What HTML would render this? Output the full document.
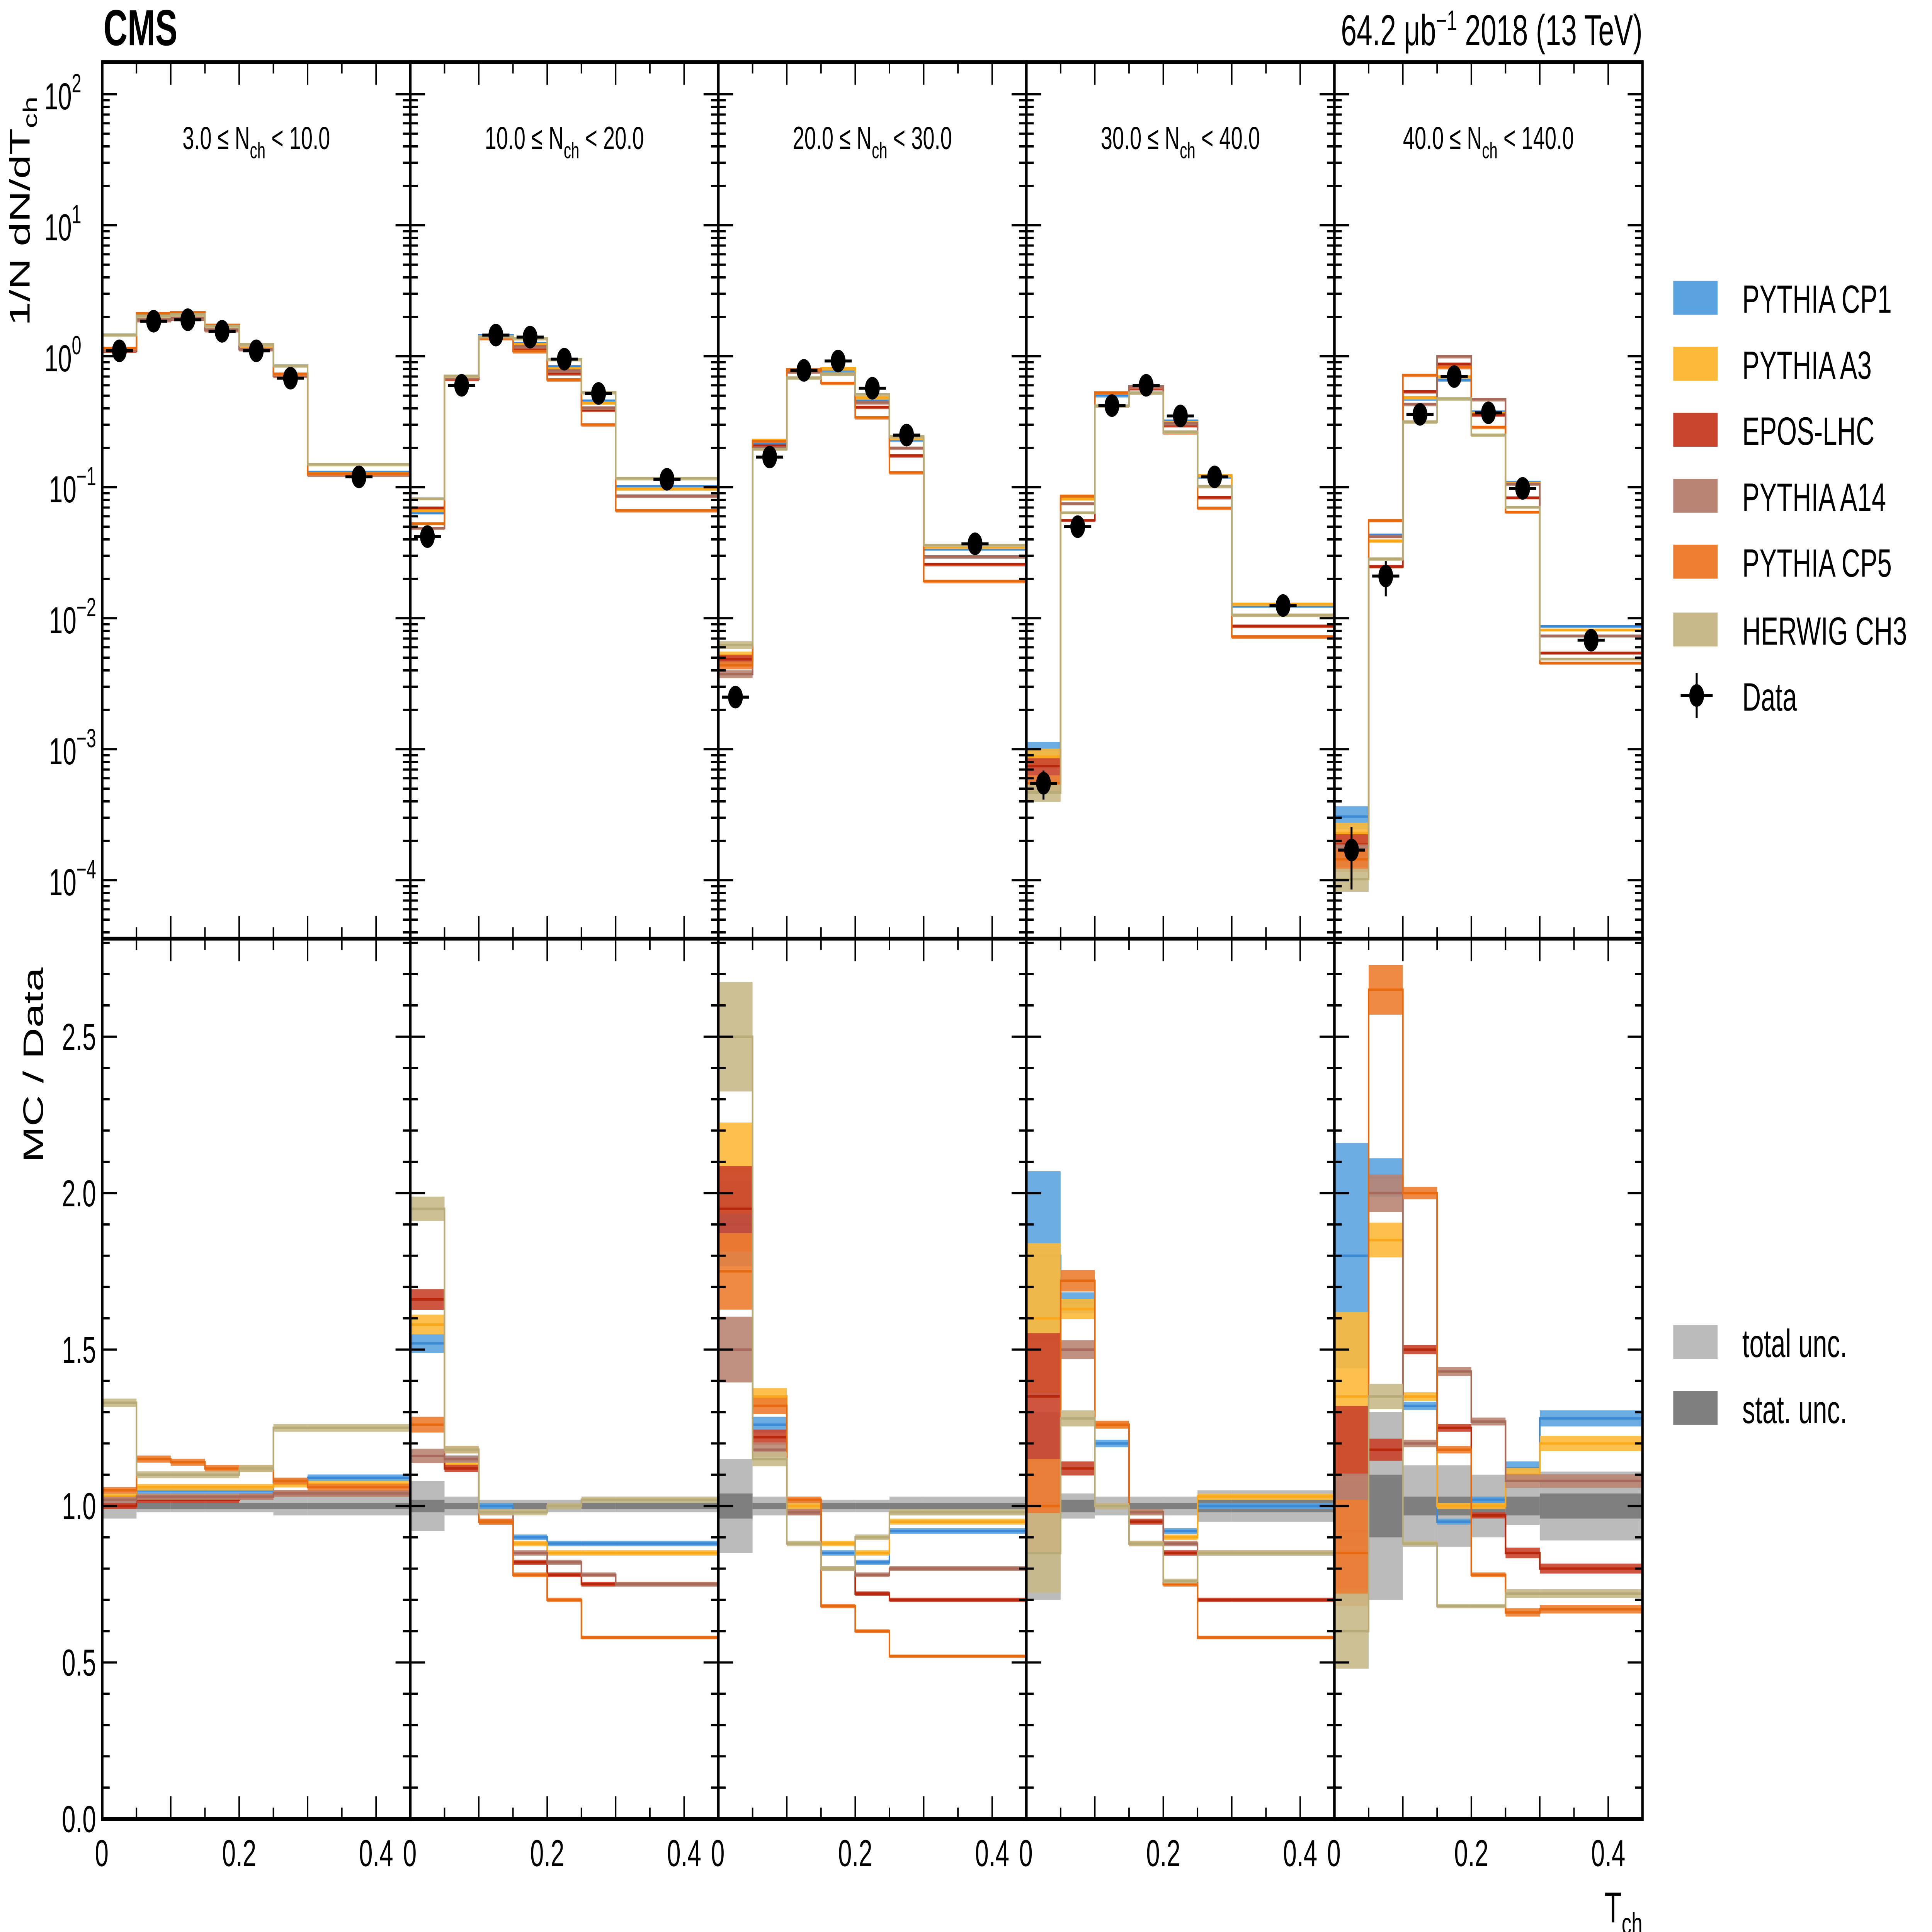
<!DOCTYPE html>
<html><head><meta charset="utf-8"><style>
html,body{margin:0;padding:0;background:#fff;width:100%;height:100%;overflow:hidden}
svg{display:block;width:100vw;height:100vh;position:absolute;left:0;top:0}
text{font-family:"Liberation Sans",sans-serif;fill:#000}
</style></head><body>
<svg id="c" xmlns="http://www.w3.org/2000/svg" viewBox="0 0 1568 1025" preserveAspectRatio="none">
<text x="84" y="24" font-size="27" font-weight="bold">CMS</text>
<text x="1333" y="24" font-size="23" text-anchor="end">64.2 μb<tspan dy="-8" font-size="15">−1</tspan><tspan dy="8"> 2018 (13 TeV)</tspan></text>
<text transform="translate(24,112) rotate(-90)" font-size="23" text-anchor="middle">1/N dN/dT<tspan dy="6" font-size="16">ch</tspan></text>
<text transform="translate(35,565) rotate(-90)" font-size="23" text-anchor="middle">MC / Data</text>
<text x="1333" y="1020" font-size="23" text-anchor="end">T<tspan dy="6" font-size="16">ch</tspan></text>
<g id="plot"></g>
<g id="legend"></g>
</svg>
<script>
const edges=[0,0.05,0.1,0.15,0.2,0.25,0.3,0.45];
const panelLabels=[["3.0","10.0"],["10.0","20.0"],["20.0","30.0"],["30.0","40.0"],["40.0","140.0"]];
const models=["PYTHIA CP1","PYTHIA A3","EPOS-LHC","PYTHIA A14","PYTHIA CP5","HERWIG CH3"];
const colors=["#5ba3e0","#fdb93a","#c9442c","#b98473","#ed7d31","#c8b98a"];
const lineColors=["#3c8ad6","#fba81b","#b8280c","#a86a5a","#e86a10","#b8ab78"];
const data=[
 [1.1,1.85,1.9,1.55,1.1,0.68,0.12],
 [0.042,0.6,1.45,1.4,0.95,0.52,0.115],
 [0.0025,0.17,0.78,0.92,0.57,0.25,0.037],
 [0.00055,0.05,0.42,0.6,0.35,0.12,0.0125],
 [0.00017,0.021,0.36,0.7,0.37,0.098,0.0068]];
const dataErr=[
 [0.02,0.02,0.02,0.02,0.02,0.02,0.02],
 [0.03,0.02,0.02,0.02,0.02,0.02,0.02],
 [0.1,0.02,0.02,0.02,0.02,0.02,0.02],
 [0.25,0.03,0.02,0.02,0.02,0.02,0.02],
 [0.5,0.3,0.05,0.03,0.03,0.03,0.05]];
const ratioCP1=[[1.02,1.05,1.05,1.05,1.05,1.08,1.09],[1.52,1.15,1.0,0.9,0.88,0.88,0.88],[1.9,1.26,1.0,0.85,0.82,0.92,0.92],[1.8,1.65,1.2,0.98,0.92,1.0,1.0],[1.8,2.05,1.32,0.95,1.02,1.12,1.28]];
const ratioA3=[[1.03,1.06,1.06,1.06,1.06,1.07,1.07],[1.58,1.13,0.98,0.88,0.85,0.85,0.85],[2.08,1.35,1.0,0.88,0.85,0.95,0.95],[1.6,1.63,1.26,0.98,0.9,1.03,1.03],[1.35,1.85,1.35,1.0,1.0,1.1,1.2]];
const ratioEPOS=[[1.0,1.02,1.02,1.02,1.03,1.04,1.04],[1.66,1.12,0.95,0.82,0.78,0.75,0.75],[1.95,1.22,0.98,0.8,0.72,0.7,0.7],[1.35,1.12,1.0,0.95,0.85,0.7,0.7],[1.1,1.18,1.5,1.25,0.97,0.85,0.8]];
const ratioA14=[[1.02,1.03,1.03,1.03,1.03,1.04,1.04],[1.16,1.15,0.98,0.85,0.82,0.78,0.75],[1.5,1.18,0.98,0.8,0.78,0.8,0.8],[1.0,1.5,1.0,0.98,0.88,0.85,0.85],[0.92,2.0,1.2,1.43,1.27,1.08,1.08]];
const ratioCP5=[[1.05,1.15,1.14,1.12,1.12,1.08,1.06],[1.26,1.18,0.95,0.78,0.7,0.58,0.58],[1.75,1.32,1.02,0.68,0.6,0.52,0.52],[1.0,1.72,1.26,0.88,0.75,0.58,0.58],[0.85,2.65,2.0,1.18,0.78,0.66,0.67]];
const ratioCH3=[[1.33,1.1,1.1,1.1,1.12,1.25,1.25],[1.95,1.18,0.98,0.98,1.0,1.02,1.02],[2.5,1.15,0.88,0.8,0.9,0.98,0.98],[0.85,1.28,1.0,0.88,0.76,0.85,0.85],[0.6,1.35,0.88,0.68,0.68,0.72,0.72]];
const ratios=[ratioCP1,ratioA3,ratioEPOS,ratioA14,ratioCP5,ratioCH3];
const mcUnc=[
 [0.01,0.01,0.01,0.01,0.01,0.01,0.01],
 [0.02,0.01,0.01,0.01,0.01,0.01,0.01],
 [0.07,0.02,0.01,0.01,0.01,0.01,0.01],
 [0.15,0.02,0.01,0.01,0.01,0.01,0.01],
 [0.2,0.03,0.01,0.01,0.01,0.02,0.02]];
const totUnc=[
 [0.04,0.02,0.02,0.02,0.02,0.03,0.03],
 [0.08,0.03,0.02,0.02,0.02,0.02,0.02],
 [0.15,0.03,0.02,0.02,0.02,0.03,0.03],
 [0.3,0.04,0.03,0.03,0.03,0.05,0.05],
 [0.3,0.3,0.13,0.13,0.1,0.06,0.11]];
const statUnc=[
 [0.01,0.01,0.01,0.01,0.01,0.01,0.01],
 [0.02,0.01,0.01,0.01,0.01,0.01,0.01],
 [0.04,0.01,0.01,0.01,0.01,0.01,0.01],
 [0.1,0.02,0.01,0.01,0.01,0.02,0.02],
 [0.2,0.1,0.03,0.03,0.03,0.03,0.04]];
const yTickLabels=["2","1","0","−1","−2","−3","−4"];
const rTickLabels=["0.0","0.5","1.0","1.5","2.0","2.5"];
const xTickLabels=["0","0.2","0.4"];

const NS="http://www.w3.org/2000/svg";
const plot=document.getElementById('plot');
const X0=83,PW=250,TT=33,TB=498,RB=965;
function xp(p,x){return X0+p*PW+x/0.45*PW;}
function yl(v){return 189-Math.log10(v)*69.5;}
function yr(r){return 799-(r-1)*166;}
function clampT(y){return Math.max(TT,Math.min(TB,y));}
function clampR(y){return Math.max(TB,Math.min(RB,y));}
function mk(tag,attrs,parent){const e=document.createElementNS(NS,tag);for(const k in attrs)e.setAttribute(k,attrs[k]);(parent||plot).appendChild(e);return e;}

for(let p=0;p<5;p++){
  const g=mk('g',{});
  
  
  for(let b=0;b<7;b++){
    const x1=xp(p,edges[b]),x2=xp(p,edges[b+1]);
    const t=mk('rect',{x:x1,y:yr(1+totUnc[p][b]),width:x2-x1,height:yr(1-totUnc[p][b])-yr(1+totUnc[p][b]),fill:'#bbbbbb'},g);
    
    
    const s=mk('rect',{x:x1,y:yr(1+statUnc[p][b]),width:x2-x1,height:yr(1-statUnc[p][b])-yr(1+statUnc[p][b]),fill:'#7f7f7f'},g);
    
    
  }
  for(let m=0;m<6;m++){
    let dT='',dR='';
    for(let b=0;b<7;b++){
      const r=ratios[m][p][b],v=data[p][b]*r,u=mcUnc[p][b];
      const x1=xp(p,edges[b]),x2=xp(p,edges[b+1]);
      const yt=clampT(yl(v)),yrr=clampR(yr(r));
      dT+=(b==0?'M':'L')+x1+' '+yt+' H'+x2+' ';
      dR+=(b==0?'M':'L')+x1+' '+yrr+' H'+x2+' ';
      const ya=clampT(yl(v*(1+u))),yb=clampT(yl(v*(1-u)));
      const bt=mk('rect',{x:x1,y:ya,width:x2-x1,height:Math.max(1.5,yb-ya),fill:colors[m],opacity:0.9},g);
      
      
      const ra=clampR(yr(r*(1+u))),rb=clampR(yr(r*(1-u)));
      const br=mk('rect',{x:x1,y:ra,width:x2-x1,height:Math.max(1.5,rb-ra),fill:colors[m],opacity:0.9},g);
      
      
    }
    const pt=mk('path',{d:dT,fill:'none',stroke:lineColors[m],'stroke-width':1.3},g);
    
    
    const pr=mk('path',{d:dR,fill:'none',stroke:lineColors[m],'stroke-width':1.3},g);
    
    
  }
  for(let b=0;b<7;b++){
    const xc=xp(p,(edges[b]+edges[b+1])/2),v=data[p][b],e=dataErr[p][b];
    const yc=yl(v);
    mk('line',{x1:xc-11,x2:xc+11,y1:yc,y2:yc,stroke:'#000','stroke-width':1.6},g);
    mk('line',{x1:xc,x2:xc,y1:yl(v*(1+e)),y2:yl(Math.max(v*(1-e),1e-6)),stroke:'#000','stroke-width':1.6},g);
    const c=mk('circle',{cx:xc,cy:yc,r:6,fill:'#000'},g);
    
    
  }
  const px=X0+p*PW;
  mk('rect',{x:px,y:TT,width:PW,height:TB-TT,fill:'none',stroke:'#000','stroke-width':2},g);
  mk('rect',{x:px,y:TB,width:PW,height:RB-TB,fill:'none',stroke:'#000','stroke-width':2},g);
  for(let d=-5;d<=2;d++){
    for(let k=1;k<=9;k++){
      const y=yl(k*Math.pow(10,d));
      if(y<TT||y>TB)continue;
      const L=k==1?12:6;
      mk('line',{x1:px,x2:px+L,y1:y,y2:y,stroke:'#000','stroke-width':1.2},g);
      mk('line',{x1:px+PW-L,x2:px+PW,y1:y,y2:y,stroke:'#000','stroke-width':1.2},g);
    }
  }
  for(let i=0;i<=28;i++){
    const r=i*0.1,y=yr(r);if(y<TB)continue;
    const L=i%5==0?12:6;
    mk('line',{x1:px,x2:px+L,y1:y,y2:y,stroke:'#000','stroke-width':1.2},g);
    mk('line',{x1:px+PW-L,x2:px+PW,y1:y,y2:y,stroke:'#000','stroke-width':1.2},g);
  }
  for(let i=0;i<=9;i++){
    const x=xp(p,i*0.05),L=i%2==0?12:6;
    [[TB,TB-L],[TB,TB+L],[TT,TT+L],[RB,RB-L]].forEach(a=>mk('line',{x1:x,x2:x,y1:a[0],y2:a[1],stroke:'#000','stroke-width':1.2},g));
  }
  xTickLabels.forEach((t,i)=>{
    const tx=mk('text',{x:i==0?xp(p,0)-6:xp(p,i*0.2),y:990,'font-size':20,'text-anchor':i==0?'start':'middle'},g);
    tx.textContent=t;
    
    
  });
  const lab=mk('text',{x:px+PW/2,y:79,'font-size':17,'text-anchor':'middle'},g);
  lab.innerHTML=panelLabels[p][0]+'  ≤  N<tspan dy="5" font-size="12">ch</tspan><tspan dy="-5">  &lt;  '+panelLabels[p][1]+'</tspan>';
  
  
}
yTickLabels.forEach((t,i)=>{
  const e=2-i,y=yl(Math.pow(10,e));
  const tx=mk('text',{x:e<0?78:66,y:y+8,'font-size':20,'text-anchor':'end'});
  tx.innerHTML='10<tspan dy="-9" font-size="14">'+t+'</tspan>';
  
  
});
rTickLabels.forEach((t,i)=>{
  const tx=mk('text',{x:78,y:yr(i*0.5)+7,'font-size':20,'text-anchor':'end'});
  tx.textContent=t;
  
  
});
const lg=document.getElementById('legend');
const legY=[158,193,228,263,298,334];
models.forEach((m,i)=>{
  const r=mk('rect',{x:1358,y:legY[i]-9,width:36,height:18,fill:colors[i]},lg);
  
  
  const t=mk('text',{x:1414,y:legY[i]+8,'font-size':21},lg);
  t.textContent=m;
  
  
});
mk('line',{x1:1364,x2:1390,y1:369,y2:369,stroke:'#000','stroke-width':1.6},lg);
mk('line',{x1:1377,x2:1377,y1:357,y2:381,stroke:'#000','stroke-width':1.6},lg);
mk('circle',{cx:1377,cy:369,r:6,fill:'#000'},lg);
const dt=mk('text',{x:1414,y:377,'font-size':21},lg);dt.textContent='Data';


[['total unc.','#bbbbbb',712],['stat. unc.','#7f7f7f',747]].forEach(a=>{
  mk('rect',{x:1358,y:a[2]-9,width:36,height:18,fill:a[1]},lg);
  const t=mk('text',{x:1414,y:a[2]+8,'font-size':21},lg);t.textContent=a[0];
  
  
});
</script>
</body></html>
